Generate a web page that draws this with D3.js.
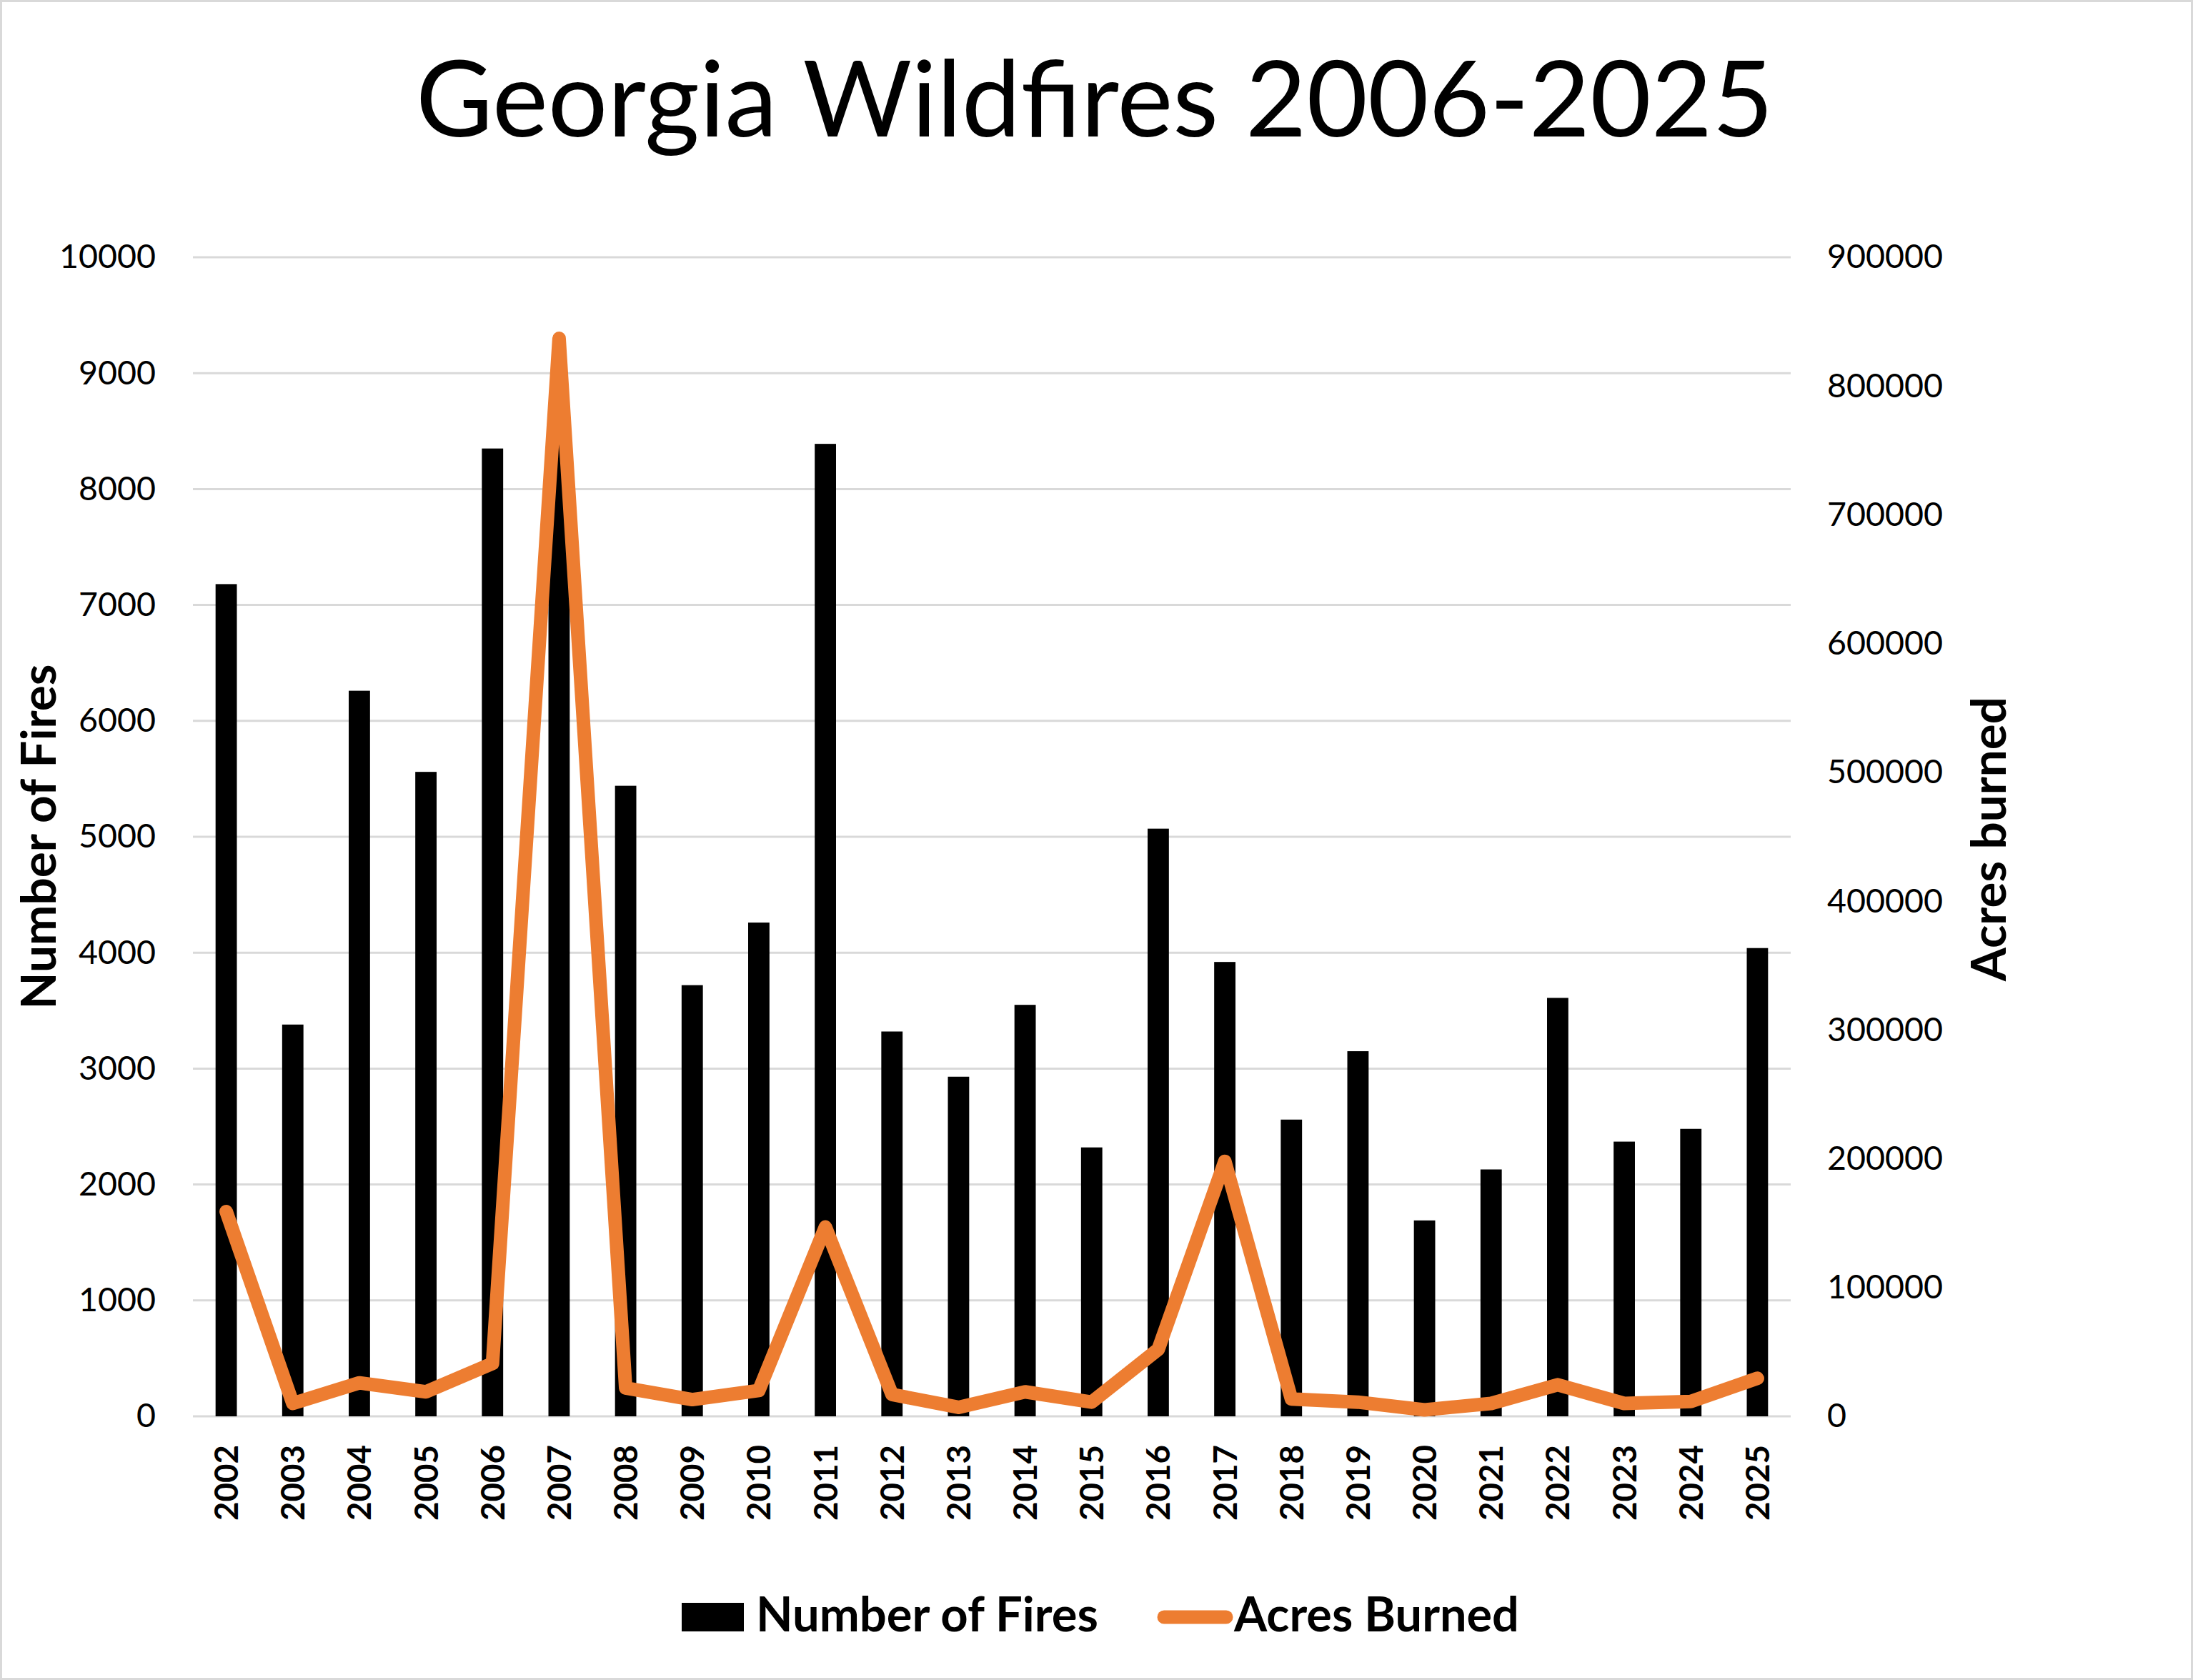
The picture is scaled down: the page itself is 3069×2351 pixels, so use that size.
<!DOCTYPE html>
<html>
<head>
<meta charset="utf-8">
<script src="https://cdn.jsdelivr.net/npm/d3@7"></script>
<style>
  html, body { margin: 0; padding: 0; background: #ffffff; }
  svg { display: block; }
  text { font-family: Lato, "Open Sans", "Liberation Sans", sans-serif; fill: #000; }
</style>
</head>
<body>
<svg id="chart" width="3069" height="2351"></svg>
<script>
// ---- data ----
const years = ["2002","2003","2004","2005","2006","2007","2008","2009","2010","2011","2012","2013",
               "2014","2015","2016","2017","2018","2019","2020","2021","2022","2023","2024","2025"];
const numberOfFires = [7180, 3380, 6260, 5560, 8350, 8600, 5440, 3720, 4260, 8390, 3320, 2930,
                       3550, 2320, 5070, 3920, 2560, 3150, 1690, 2130, 3610, 2370, 2480, 4040];
const acresBurned = [159000, 10000, 26000, 19000, 41000, 837000, 22000, 13000, 20000, 147000, 17000, 7000,
                     19000, 11000, 52000, 198000, 13500, 11000, 5000, 10000, 24500, 10000, 11500, 29500];
const leftTicks = [0,1000,2000,3000,4000,5000,6000,7000,8000,9000,10000];
const rightTicks = [0,100000,200000,300000,400000,500000,600000,700000,800000,900000];
const titleText = "Georgia Wildfires 2006-2025";
const leftTitle = "Number of Fires";
const rightTitle = "Acres burned";
const legendLabels = ["Number of Fires", "Acres Burned"];

const W = 3069, H = 2351;
const plot = { left: 270, right: 2506, top: 360, bottom: 1982 };
const ORANGE = "#ED7D31", GRID = "#d9d9d9";

const svg = d3.select("#chart");

function fit(sel, target) {
  const w = sel.node().getComputedTextLength();
  const fs = parseFloat(sel.attr("font-size"));
  sel.attr("font-size", fs * target / w);
  return fs * target / w;
}

// border
svg.append("rect").attr("x", 1.5).attr("y", 1.5).attr("width", W - 3).attr("height", H - 3)
  .attr("fill", "#fff").attr("stroke", GRID).attr("stroke-width", 3);

// scales
const x = d3.scaleBand().domain(years).range([plot.left, plot.right])
  .paddingInner(0.68).paddingOuter(0.34);
const yL = d3.scaleLinear().domain([0, 10000]).range([plot.bottom, plot.top]);
const yR = d3.scaleLinear().domain([0, 900000]).range([plot.bottom, plot.top]);

// gridlines
svg.append("g").selectAll("line").data(leftTicks).join("line")
  .attr("x1", plot.left).attr("x2", plot.right)
  .attr("y1", d => yL(d)).attr("y2", d => yL(d))
  .attr("stroke", GRID).attr("stroke-width", 3);

// measure tick font size
const probe = svg.append("text").attr("font-size", 50).text("10000");
const tickFS = fit(probe, 135);
probe.remove();
const probe2 = svg.append("text").attr("font-size", 50).attr("font-weight", "bold").text("2002");
const yearFS = fit(probe2, 106);
probe2.remove();

// left axis
const gL = svg.append("g").attr("transform", `translate(${plot.left},0)`)
  .call(d3.axisLeft(yL).tickValues(leftTicks).tickSize(0).tickPadding(52).tickFormat(d3.format("d")));
gL.select(".domain").remove();
gL.selectAll("text").attr("font-size", tickFS).attr("font-family", "Lato, 'Open Sans', sans-serif").attr("fill", "#000");

// right axis
const gR = svg.append("g").attr("transform", `translate(${plot.right},0)`)
  .call(d3.axisRight(yR).tickValues(rightTicks).tickSize(0).tickPadding(51).tickFormat(d3.format("d")));
gR.select(".domain").remove();
gR.selectAll("text").attr("font-size", tickFS).attr("font-family", "Lato, 'Open Sans', sans-serif").attr("fill", "#000");

// bars
svg.append("g").selectAll("rect").data(years).join("rect")
  .attr("x", d => x(d)).attr("width", x.bandwidth())
  .attr("y", (d, i) => yL(numberOfFires[i]))
  .attr("height", (d, i) => yL(0) - yL(numberOfFires[i]))
  .attr("fill", "#000");

// bottom axis
const gB = svg.append("g").attr("transform", `translate(0,${plot.bottom})`)
  .call(d3.axisBottom(x).tickSize(0));
gB.select(".domain").remove();
gB.selectAll("text")
  .attr("font-size", yearFS).attr("font-weight", "bold")
  .attr("font-family", "Lato, 'Open Sans', sans-serif").attr("fill", "#000")
  .attr("transform", "rotate(-90)")
  .attr("x", -40).attr("y", 0).attr("dy", "0.36em")
  .attr("text-anchor", "end");

// line
const line = d3.line()
  .x((d, i) => x(years[i]) + x.bandwidth() / 2)
  .y(d => yR(d));
svg.append("path").datum(acresBurned)
  .attr("d", line).attr("fill", "none")
  .attr("stroke", ORANGE).attr("stroke-width", 19)
  .attr("stroke-linejoin", "round").attr("stroke-linecap", "round");

// title
const t = svg.append("text").attr("x", 1532).attr("y", 191).attr("text-anchor", "middle")
  .attr("font-size", 150).text(titleText);
fit(t, 1900);

// axis titles
const lt = svg.append("text").attr("transform", "translate(78,1171) rotate(-90)")
  .attr("text-anchor", "middle").attr("font-weight", "bold").attr("font-size", 70).text(leftTitle);
fit(lt, 483);
const rt = svg.append("text").attr("transform", "translate(2807,1174) rotate(-90)")
  .attr("text-anchor", "middle").attr("font-weight", "bold").attr("font-size", 70).text(rightTitle);
fit(rt, 398);

// legend
const lg = svg.append("g");
lg.append("rect").attr("x", 954).attr("y", 2243).attr("width", 87).attr("height", 40).attr("fill", "#000");
const l1 = lg.append("text").attr("x", 1058).attr("y", 2283).attr("font-weight", "bold")
  .attr("font-size", 70).text(legendLabels[0]);
fit(l1, 479);
lg.append("line").attr("x1", 1629).attr("x2", 1716).attr("y1", 2263).attr("y2", 2263)
  .attr("stroke", ORANGE).attr("stroke-width", 19).attr("stroke-linecap", "round");
const l2 = lg.append("text").attr("x", 1727).attr("y", 2283).attr("font-weight", "bold")
  .attr("font-size", 70).text(legendLabels[1]);
fit(l2, 399);
</script>
</body>
</html>
